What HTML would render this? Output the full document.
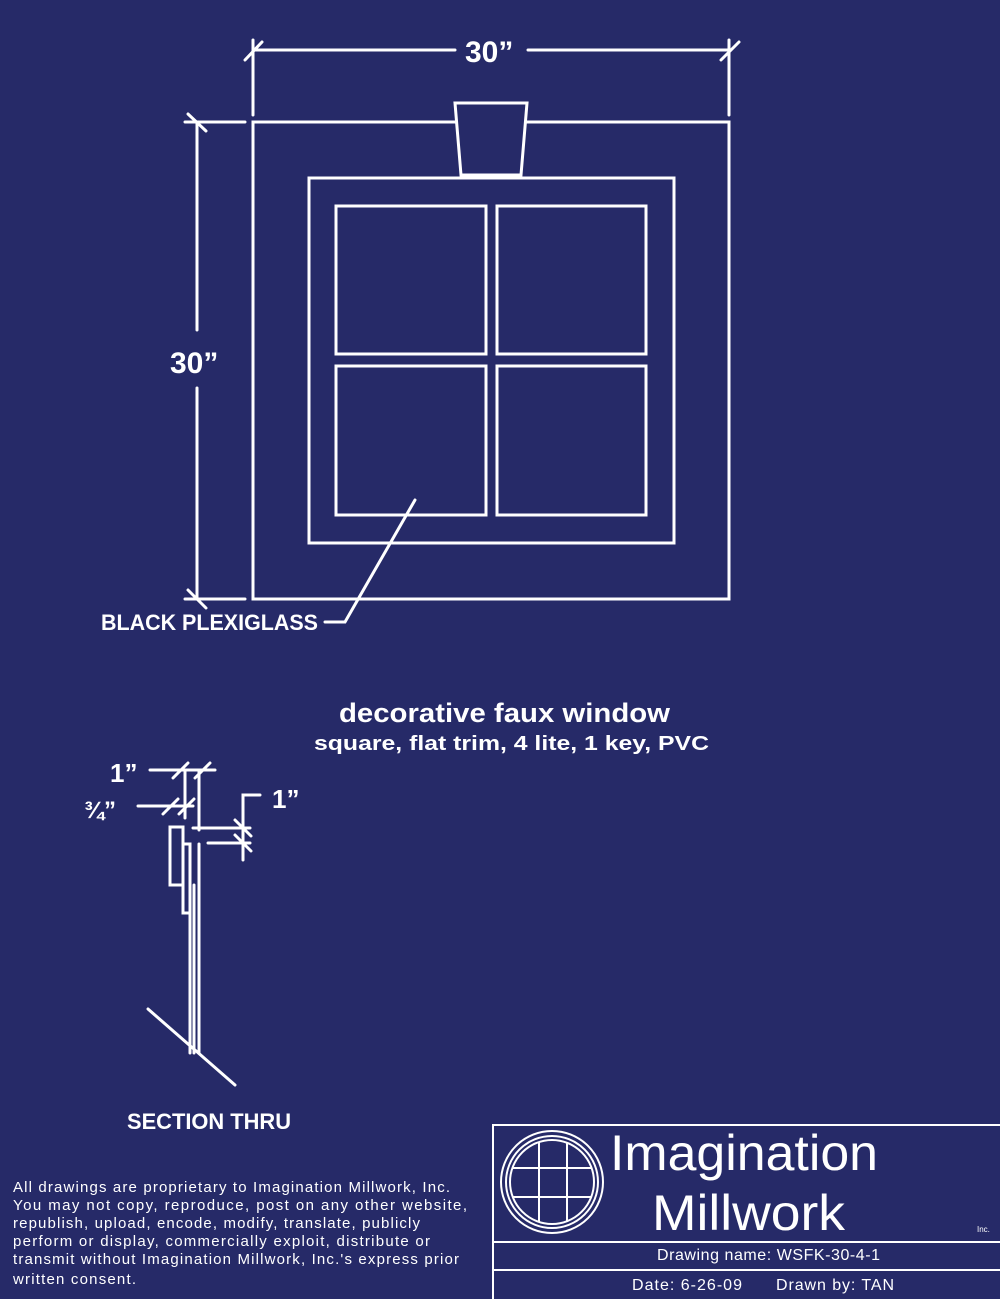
<!DOCTYPE html>
<html><head><meta charset="utf-8"><style>
body{margin:0;background:#262a68;}
svg{display:block}
text{fill:#fff;font-family:"Liberation Sans",sans-serif;}
</style></head><body>
<svg width="1000" height="1299" viewBox="0 0 1000 1299">
<rect width="1000" height="1299" fill="#262a68"/>
<g stroke="#fff" stroke-width="3" fill="none" stroke-linecap="round">
<rect x="253" y="122" width="476" height="477"/>
<rect x="309" y="178" width="365" height="365"/>
<rect x="336" y="206" width="150" height="148"/>
<rect x="497" y="206" width="149" height="148"/>
<rect x="336" y="366" width="150" height="149"/>
<rect x="497" y="366" width="149" height="149"/>
<polygon points="455,103 527,103 521,175 461,175" fill="#262a68"/>
<line x1="253" y1="50" x2="455" y2="50"/><line x1="528" y1="50" x2="729" y2="50"/>
<line x1="253" y1="40" x2="253" y2="115"/><line x1="729" y1="40" x2="729" y2="115"/>
<line x1="245" y1="60" x2="262" y2="42"/><line x1="721" y1="60" x2="739" y2="42"/>
<line x1="185" y1="122" x2="245" y2="122"/><line x1="185" y1="599" x2="245" y2="599"/>
<line x1="197" y1="122" x2="197" y2="330"/><line x1="197" y1="388" x2="197" y2="599"/>
<line x1="188" y1="114" x2="206" y2="131"/><line x1="188" y1="590" x2="206" y2="608"/>
<polyline points="415,500 345,622 325,622"/>
<line x1="150" y1="770" x2="215" y2="770"/>
<line x1="173" y1="778" x2="188" y2="763"/><line x1="195" y1="778" x2="210" y2="763"/>
<line x1="185" y1="770" x2="185" y2="818"/><line x1="199" y1="770" x2="199" y2="830"/>
<line x1="138" y1="806" x2="193" y2="806"/>
<line x1="163" y1="814" x2="178" y2="799"/><line x1="179" y1="814" x2="194" y2="799"/>
<rect x="170" y="827" width="13" height="58"/>
<rect x="183" y="844" width="7" height="69"/>
<line x1="190" y1="844" x2="190" y2="1053"/><line x1="199" y1="844" x2="199" y2="1053"/>
<line x1="194" y1="885" x2="194" y2="1053"/>
<line x1="148" y1="1009" x2="235" y2="1085"/>
<line x1="193" y1="828" x2="250" y2="828"/><line x1="208" y1="843" x2="250" y2="843"/>
<polyline points="260,795 243,795 243,860"/>
<line x1="235" y1="820" x2="251" y2="836"/><line x1="235" y1="835" x2="251" y2="851"/>
</g>
<g font-weight="bold">
<text x="465" y="62" font-size="30">30”</text>
<text x="170" y="373" font-size="30">30”</text>
<text x="101" y="630" font-size="22" textLength="217" lengthAdjust="spacingAndGlyphs">BLACK PLEXIGLASS</text>
<text x="339" y="722" font-size="27" textLength="331" lengthAdjust="spacingAndGlyphs">decorative faux window</text>
<text x="314" y="750" font-size="20" textLength="395" lengthAdjust="spacingAndGlyphs">square, flat trim, 4 lite, 1 key, PVC</text>
<text x="110" y="782" font-size="26">1”</text>
<text x="84" y="818" font-size="24">¾”</text>
<text x="272" y="808" font-size="26">1”</text>
<text x="127" y="1129" font-size="22" textLength="164" lengthAdjust="spacingAndGlyphs">SECTION THRU</text>
</g>
<g font-size="15">
<text x="13" y="1192" textLength="437" lengthAdjust="spacing">All drawings are proprietary to Imagination Millwork, Inc.</text>
<text x="13" y="1210" textLength="454" lengthAdjust="spacing">You may not copy, reproduce, post on any other website,</text>
<text x="13" y="1228" textLength="407" lengthAdjust="spacing">republish, upload, encode, modify, translate, publicly</text>
<text x="13" y="1246" textLength="417" lengthAdjust="spacing">perform or display, commercially exploit, distribute or</text>
<text x="13" y="1264" textLength="446" lengthAdjust="spacing">transmit without Imagination Millwork, Inc.'s express prior</text>
<text x="13" y="1284" textLength="123" lengthAdjust="spacing">written consent.</text>
</g>
<g stroke="#fff" stroke-width="2" fill="none">
<rect x="493" y="1125" width="510" height="180"/>
<line x1="493" y1="1242" x2="1000" y2="1242"/>
<line x1="493" y1="1270" x2="1000" y2="1270"/>
<circle cx="552" cy="1182" r="51"/>
<circle cx="552" cy="1182" r="46"/>
<circle cx="552" cy="1182" r="42"/>
<line x1="539" y1="1142" x2="539" y2="1222"/><line x1="567" y1="1142" x2="567" y2="1222"/>
<line x1="512" y1="1168" x2="592" y2="1168"/><line x1="512" y1="1197" x2="592" y2="1197"/>
</g>
<text x="610" y="1170" font-size="50" textLength="268" lengthAdjust="spacingAndGlyphs">Imagination</text>
<text x="652" y="1230" font-size="50" textLength="193" lengthAdjust="spacingAndGlyphs">Millwork</text>
<text x="977" y="1232" font-size="8">Inc.</text>
<text x="657" y="1260" font-size="16" textLength="223" lengthAdjust="spacing">Drawing name:  WSFK-30-4-1</text>
<text x="632" y="1290" font-size="16" textLength="110" lengthAdjust="spacing">Date: 6-26-09</text>
<text x="776" y="1290" font-size="16" textLength="118" lengthAdjust="spacing">Drawn by: TAN</text>
</svg>
</body></html>
